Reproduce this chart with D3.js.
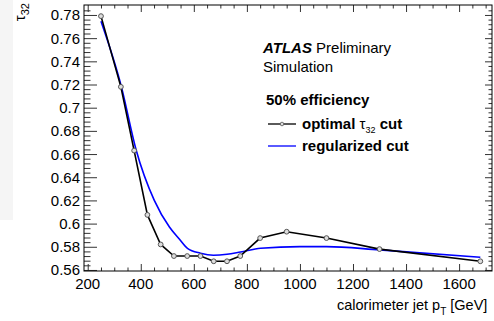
<!DOCTYPE html>
<html>
<head>
<meta charset="utf-8">
<script src="https://cdn.jsdelivr.net/npm/d3@7"></script>
<style>
  html, body { margin: 0; padding: 0; background: #fff; }
  svg { display: block; }
  text { font-family: "Liberation Sans", Arial, sans-serif; fill: #000; }
</style>
</head>
<body>
<svg id="chart" width="494" height="321"></svg>
<script>
// Optimal tau32 cut per calorimeter jet pT bin (50% signal efficiency)
const optimalPt  = [250, 325, 375, 425, 475, 525, 575, 625, 675, 725, 775, 850, 950, 1100, 1300, 1680];
const optimalCut = [0.779, 0.718, 0.663, 0.6075, 0.582, 0.572, 0.572, 0.572, 0.5675, 0.5675, 0.572, 0.5875, 0.593, 0.5875, 0.578, 0.5675];

// Smooth regularized cut, sampled along pT
const regPt  = [250, 327, 382, 451, 508, 546, 576, 625, 674, 725, 776, 852, 1000, 1100, 1300, 1680];
const regCut = [0.7745, 0.718, 0.664, 0.620, 0.597, 0.5865, 0.5787, 0.5745, 0.5727, 0.5735, 0.5755, 0.5787, 0.5801, 0.5801, 0.5773, 0.571];

const xTickValues = [200, 400, 600, 800, 1000, 1200, 1400, 1600];
const xTickLabels = ["200", "400", "600", "800", "1000", "1200", "1400", "1600"];
const yTickValues = [0.56, 0.58, 0.6, 0.62, 0.64, 0.66, 0.68, 0.7, 0.72, 0.74, 0.76, 0.78];
const yTickLabels = ["0.56", "0.58", "0.6", "0.62", "0.64", "0.66", "0.68", "0.7", "0.72", "0.74", "0.76", "0.78"];

const svg = d3.select("#chart");

// frame
const L = 84, R = 492, T = 5, B = 271;
const x = d3.scaleLinear().domain([186, 1724]).range([L, R]);
const y = d3.scaleLinear().domain([0.5591, 0.7886]).range([B, T]);

// faint panel strip at far left
svg.append("rect").attr("x", 0).attr("y", 0).attr("width", 13).attr("height", 220).attr("fill", "#f5f5f5");

const xMinor = d3.range(200, 1724, 50).filter(v => v % 200 !== 0);
const yMinor = d3.range(0, 57).map(i => +(0.56 + i * 0.004).toFixed(3)).filter(v => v < 0.7886 && Math.round(v * 1000) % 20 !== 0);

function tickLayer(axis, tx, ty) {
  const g = svg.append("g").attr("transform", `translate(${tx},${ty})`).call(axis);
  g.select(".domain").remove();
  g.selectAll(".tick line").attr("stroke", "#333").attr("stroke-width", 1);
  g.selectAll(".tick text").remove();
  return g;
}

// ticks drawn inside the frame on all four sides
tickLayer(d3.axisTop(x).tickValues(xTickValues).tickSize(7), 0, B);
tickLayer(d3.axisTop(x).tickValues(xMinor).tickSize(3.5), 0, B);
tickLayer(d3.axisBottom(x).tickValues(xTickValues).tickSize(7), 0, T);
tickLayer(d3.axisBottom(x).tickValues(xMinor).tickSize(3.5), 0, T);
tickLayer(d3.axisRight(y).tickValues(yTickValues).tickSize(13), L, 0);
tickLayer(d3.axisRight(y).tickValues(yMinor).tickSize(6.5), L, 0);
tickLayer(d3.axisLeft(y).tickValues(yTickValues).tickSize(7), R, 0);
tickLayer(d3.axisLeft(y).tickValues(yMinor).tickSize(3.5), R, 0);

svg.append("rect").attr("x", L).attr("y", T).attr("width", R - L).attr("height", B - T)
  .attr("fill", "none").attr("stroke", "#000").attr("stroke-width", 1);

// tick labels
svg.append("g").selectAll("text").data(xTickValues).join("text")
  .attr("x", d => x(d)).attr("y", 289).attr("text-anchor", "middle")
  .attr("font-size", 15).text((d, i) => xTickLabels[i]);
svg.append("g").selectAll("text").data(yTickValues).join("text")
  .attr("x", 80).attr("y", d => y(d) + 5.5).attr("text-anchor", "end")
  .attr("font-size", 15).text((d, i) => yTickLabels[i]);

// axis titles
const xt = svg.append("text").attr("x", 337).attr("y", 310).attr("font-size", 14.5);
xt.append("tspan").text("calorimeter jet p");
xt.append("tspan").attr("font-size", 10).attr("dy", 5).text("T");
xt.append("tspan").attr("dy", -5).text("  [GeV]");

const yt = svg.append("text").attr("transform", "translate(25,3) rotate(-90)")
  .attr("text-anchor", "end").attr("font-size", 15);
yt.append("tspan").text("τ");
yt.append("tspan").attr("font-size", 11).attr("dy", 4).text("32");

// curves
const optimal = optimalPt.map((p, i) => [p, optimalCut[i]]);
const reg = regPt.map((p, i) => [p, regCut[i]]);

svg.append("path").datum(reg)
  .attr("d", d3.line().x(d => x(d[0])).y(d => y(d[1])).curve(d3.curveMonotoneX))
  .attr("fill", "none").attr("stroke", "#0000ff").attr("stroke-width", 1.6);

svg.append("path").datum(optimal)
  .attr("d", d3.line().x(d => x(d[0])).y(d => y(d[1])))
  .attr("fill", "none").attr("stroke", "#000").attr("stroke-width", 1.6);

svg.append("g").selectAll("circle").data(optimal).join("circle")
  .attr("cx", d => x(d[0])).attr("cy", d => y(d[1])).attr("r", 2.4)
  .attr("fill", "#ddd").attr("stroke", "#555").attr("stroke-width", 1);

// labels and legend
const t1 = svg.append("text").attr("x", 263).attr("y", 53).attr("font-size", 15);
t1.append("tspan").attr("font-weight", "bold").attr("font-style", "italic").text("ATLAS");
t1.append("tspan").text(" Preliminary");
svg.append("text").attr("x", 263).attr("y", 72).attr("font-size", 15).text("Simulation");

svg.append("text").attr("x", 266).attr("y", 105).attr("font-size", 15).attr("font-weight", "bold").text("50% efficiency");

svg.append("line").attr("x1", 268).attr("x2", 296).attr("y1", 124).attr("y2", 124)
  .attr("stroke", "#000").attr("stroke-width", 1.3);
svg.append("circle").attr("cx", 282).attr("cy", 124).attr("r", 1.8)
  .attr("fill", "#ddd").attr("stroke", "#555").attr("stroke-width", 0.8);
const l1 = svg.append("text").attr("x", 302).attr("y", 129).attr("font-size", 15).attr("font-weight", "bold");
l1.append("tspan").text("optimal ");
l1.append("tspan").attr("font-weight", "normal").text("τ");
l1.append("tspan").attr("font-size", 9).attr("font-weight", "normal").attr("dy", 4).text("32");
l1.append("tspan").attr("dy", -4).text(" cut");

svg.append("line").attr("x1", 268).attr("x2", 296).attr("y1", 146).attr("y2", 146)
  .attr("stroke", "#0000ff").attr("stroke-width", 1.3);
svg.append("text").attr("x", 302).attr("y", 151).attr("font-size", 15).attr("font-weight", "bold").text("regularized cut");
</script>
</body>
</html>
